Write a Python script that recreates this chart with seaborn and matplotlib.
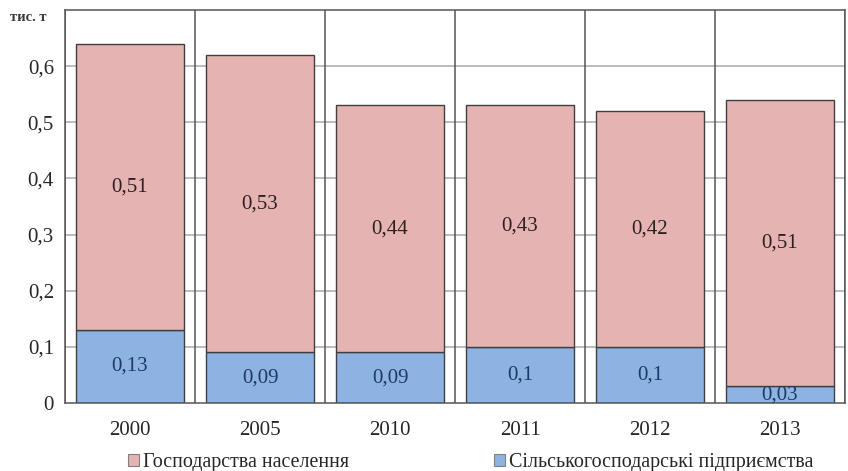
import matplotlib
matplotlib.use("Agg")
import matplotlib.pyplot as plt
from matplotlib.patches import Patch
import seaborn as sns
import pandas as pd

years = ["2000", "2005", "2010", "2011", "2012", "2013"]
enterprises = [0.13, 0.09, 0.09, 0.10, 0.10, 0.03]   # Сільськогосподарські підприємства
households = [0.51, 0.53, 0.44, 0.43, 0.42, 0.51]    # Господарства населення
y_ticks = [0, 0.1, 0.2, 0.3, 0.4, 0.5, 0.6]
y_tick_labels = ["0", "0,1", "0,2", "0,3", "0,4", "0,5", "0,6"]
label_households = "Господарства населення"
label_enterprises = "Сільськогосподарські підприємства"
unit = "тис. т"

def fmt(v):
    s = f"{v:.2f}".rstrip("0").rstrip(".")
    return s.replace(".", ",")

df = pd.DataFrame({"year": years, "ent": enterprises, "hh": households})

sns.set_theme(style="white")
plt.rcParams["font.family"] = ["Liberation Serif", "DejaVu Serif"]

pink = "#E6B3B3"
blue = "#8DB3E2"
edge = "#3F3F3F"

fig = plt.figure(figsize=(8.48, 4.71), dpi=100)
ax = fig.add_axes([0.0767, 0.1444, 0.9198, 0.8344])

# grid behind the bars
for t in y_ticks[1:]:
    ax.axhline(t, color="#B0B0B0", lw=1.2, zorder=0)
for b in range(len(years) + 1):
    ax.axvline(b - 0.5, color="#555555", lw=1.1, zorder=0.5)

sns.barplot(data=df, x="year", y="ent", color=blue, width=0.83,
            edgecolor=edge, linewidth=1.0, saturation=1, ax=ax, zorder=2)
sns.barplot(data=df, x="year", y="hh", bottom=df["ent"], color=pink, width=0.83,
            edgecolor=edge, linewidth=1.0, saturation=1, ax=ax, zorder=2)

for i, (e, h) in enumerate(zip(enterprises, households)):
    ax.text(i, e / 2, fmt(e), ha="center", va="center", fontsize=15,
            color="#1F3864", zorder=3)
    ax.text(i, e + h / 2, fmt(h), ha="center", va="center", fontsize=15,
            color="#2B2020", zorder=3)

ax.set_xlim(-0.5, len(years) - 0.5)
ax.set_ylim(0, 0.7)
ax.set_yticks(y_ticks)
ax.set_yticklabels(y_tick_labels, fontsize=15)
ax.set_xticks([i - 0.5 for i in range(len(years) + 1)], minor=True)
ax.set_xticklabels(years, fontsize=15)
ax.tick_params(axis="x", which="major", length=0, pad=13)
ax.tick_params(axis="x", which="minor", length=6, color="#555555", width=1.1,
               direction="out")
ax.tick_params(axis="y", length=6, color="#555555", width=1.1, direction="inout",
               pad=5)
ax.set_xlabel("")
ax.set_ylabel("")
for sp in ax.spines.values():
    sp.set_color("#555555")
    sp.set_linewidth(1.1)
    sp.set_visible(True)

fig.text(0.012, 0.962, unit, fontsize=10.5, fontweight="bold", color="#3A3A3A",
         va="center")

handles = [Patch(facecolor=pink, edgecolor="#808080", linewidth=0.8),
           Patch(facecolor=blue, edgecolor="#808080", linewidth=0.8)]
fig.legend(handles, [label_households, label_enterprises], ncol=2,
           loc="center", bbox_to_anchor=(0.555, 0.018), frameon=False,
           fontsize=14.4, handlelength=0.55, handleheight=0.55, handletextpad=0.2,
           columnspacing=7.2, borderpad=0)

fig.savefig("out.png", dpi=100)
